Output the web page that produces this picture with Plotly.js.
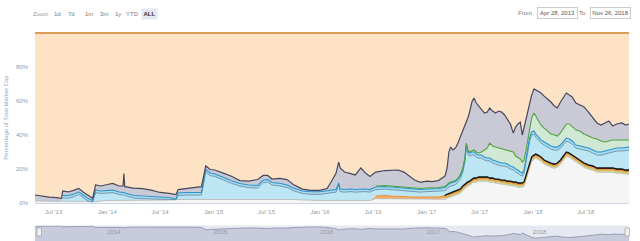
<!DOCTYPE html>
<html><head><meta charset="utf-8">
<script src="https://cdn.plot.ly/plotly-3.0.1.min.js"></script>
<style>html,body{margin:0;padding:0;background:#fff;}#chart{width:640px;height:241px;}</style>
</head><body><div id="chart"></div>
<script>
// Cumulative percentage of total market cap at the top of each stacked band
const dates = ['2013-04-28','2013-05-20','2013-06-15','2013-07-10','2013-07-28','2013-08-01','2013-08-20','2013-09-10','2013-09-25','2013-10-10',
'2013-10-28','2013-11-12','2013-11-22','2013-12-10','2014-01-01','2014-01-20','2014-02-10','2014-02-24','2014-02-27','2014-03-02',
'2014-04-01','2014-05-01','2014-06-01','2014-07-01','2014-08-01','2014-08-25','2014-09-01','2014-10-01','2014-11-01','2014-11-20',
'2014-12-05','2014-12-20','2015-01-05','2015-01-20','2015-02-05','2015-03-01','2015-04-01','2015-05-01','2015-06-01','2015-06-20',
'2015-07-05','2015-07-20','2015-08-15','2015-09-10','2015-10-01','2015-11-01','2015-12-01','2016-01-01','2016-01-25','2016-02-10',
'2016-02-25','2016-03-05','2016-03-10','2016-03-25','2016-04-15','2016-05-01','2016-05-20','2016-06-05','2016-06-20','2016-07-10',
'2016-08-10','2016-09-01','2016-09-25','2016-10-15','2016-11-01','2016-11-20','2016-12-10','2017-01-01','2017-01-20','2017-02-10',
'2017-03-05','2017-03-12','2017-03-18','2017-03-24','2017-04-01','2017-04-10','2017-04-18','2017-04-26','2017-05-05','2017-05-12',
'2017-05-17','2017-05-22','2017-05-28','2017-06-05','2017-06-12','2017-06-20','2017-06-28','2017-07-08','2017-07-18','2017-07-28',
'2017-08-05','2017-08-15','2017-08-25','2017-09-05','2017-09-15','2017-09-25','2017-10-05','2017-10-15','2017-10-25','2017-11-02',
'2017-11-10','2017-11-18','2017-11-25','2017-12-01','2017-12-08','2017-12-14','2017-12-20','2017-12-27','2018-01-04','2018-01-10',
'2018-01-18','2018-01-28','2018-02-08','2018-02-20','2018-03-03','2018-03-15','2018-03-25','2018-04-05','2018-04-15','2018-04-25',
'2018-05-05','2018-05-15','2018-05-28','2018-06-10','2018-06-25','2018-07-10','2018-07-25','2018-08-08','2018-08-22','2018-09-05',
'2018-09-18','2018-10-01','2018-10-15','2018-11-01','2018-11-15','2018-11-26'];

const levelOthers = [1.2,1.2,0.9,0.9,0.9,0.9,0.9,0.9,0.9,0.9,
0.9,0.6,0.9,1.2,1.5,1.5,1.5,1.5,1.5,1.5,
1.8,1.8,1.8,1.8,1.8,1.8,2.1,2.1,2.1,2.1,
2.4,2.4,2.4,2.4,2.4,2.4,2.4,2.4,2.4,2.4,
2.4,2.4,2.4,2.1,2.1,1.8,1.5,1.5,1.5,1.5,
1.5,1.5,1.5,1.5,1.5,1.5,1.5,1.5,1.5,2.6,
2.6,2.6,2.6,2.4,2.4,2.4,2.4,2.4,2.4,2.4,
2.2,2.8,3.1,3.4,4.0,4.6,5.1,5.7,7.5,8.7,
9.3,9.9,10.4,11.6,12.2,12.2,12.8,12.8,12.8,12.8,
12.2,12.2,11.6,11.6,11.0,11.0,10.4,10.4,9.9,9.9,
9.3,9.3,9.3,9.9,14.0,18.1,21.6,24.6,25.7,26.3,
25.7,24.6,22.8,21.6,21.0,20.4,21.0,22.8,25.1,27.5,
26.9,25.7,24.0,22.8,21.0,19.9,19.3,18.1,18.1,18.1,
18.1,18.1,17.5,17.5,16.9,16.9];

const levelOlive = [1.2,1.2,0.9,0.9,0.9,0.9,0.9,0.9,0.9,0.9,
0.9,0.6,0.9,1.2,1.5,1.5,1.5,1.5,1.5,1.5,
1.8,1.8,1.8,1.8,1.8,1.8,2.1,2.1,2.1,2.1,
2.4,2.4,2.4,2.4,2.4,2.4,2.4,2.4,2.4,2.4,
2.4,2.4,2.4,2.1,2.1,1.8,1.5,1.5,1.5,1.5,
1.5,1.5,1.5,1.5,1.5,1.5,1.5,1.5,1.5,2.6,
2.6,2.6,2.6,2.4,2.4,2.4,2.4,2.4,2.4,2.4,
3.0,3.6,3.9,4.2,4.8,5.4,5.9,6.5,8.3,9.5,
10.1,10.7,11.2,12.4,13.0,13.0,13.6,13.6,13.6,13.6,
13.0,13.0,12.4,12.4,11.8,11.8,11.2,11.2,10.7,10.7,
10.1,10.1,10.1,10.7,14.8,18.9,22.4,25.4,26.5,27.1,
26.5,25.4,23.6,22.4,21.8,21.2,21.8,23.6,25.9,28.3,
27.7,26.5,24.8,23.6,21.8,20.7,20.1,18.9,18.9,18.9,
18.9,18.9,18.3,18.3,17.7,17.7];

const levelOrange = [1.2,1.2,0.9,0.9,0.9,0.9,0.9,0.9,0.9,0.9,
0.9,0.6,0.9,1.2,1.5,1.5,1.5,1.5,1.5,1.5,
1.8,1.8,1.8,1.8,1.8,1.8,2.1,2.1,2.1,2.1,
2.4,2.4,2.4,2.4,2.4,2.4,2.4,2.4,2.4,2.4,
2.4,2.4,2.4,2.1,2.1,1.8,1.5,1.5,1.5,1.5,
1.5,1.5,1.5,1.5,1.5,1.5,1.5,1.5,1.5,4.1,
4.4,4.1,4.1,3.8,3.5,3.5,3.2,3.5,3.5,3.5,
3.9,4.5,4.8,5.1,5.7,6.3,6.8,7.4,9.2,10.4,
11.0,11.6,12.1,13.3,13.9,13.9,14.5,14.5,14.5,14.5,
13.9,13.9,13.3,13.3,12.7,12.7,12.1,12.1,11.6,11.6,
11.0,11.0,11.0,11.6,15.7,19.8,23.3,26.3,27.4,28.0,
27.4,26.3,24.5,23.3,22.7,22.1,22.7,24.5,26.8,29.2,
28.6,27.4,25.7,24.5,22.7,21.6,21.0,19.8,19.8,19.8,
19.8,19.8,19.2,19.2,18.6,18.6];

const levelBlack = [1.2,1.2,0.9,0.9,0.9,0.9,0.9,0.9,0.9,0.9,
0.9,0.6,0.9,1.2,1.5,1.5,1.5,1.5,1.5,1.5,
1.8,1.8,1.8,1.8,1.8,1.8,2.1,2.1,2.1,2.1,
2.4,2.4,2.4,2.4,2.4,2.4,2.4,2.4,2.4,2.4,
2.4,2.4,2.4,2.1,2.1,1.8,1.5,1.5,1.5,1.5,
1.5,1.5,1.5,1.5,1.5,1.5,1.5,1.5,1.5,4.1,
4.4,4.1,4.1,3.8,3.5,3.5,3.2,3.5,3.5,3.5,
4.7,5.3,5.6,5.9,6.5,7.1,7.6,8.2,10.0,11.2,
11.8,12.4,12.9,14.1,14.7,14.7,15.3,15.3,15.3,15.3,
14.7,14.7,14.1,14.1,13.5,13.5,12.9,12.9,12.4,12.4,
11.8,11.8,11.8,12.4,16.5,20.6,24.1,27.1,28.2,28.8,
28.2,27.1,25.3,24.1,23.5,22.9,23.5,25.3,27.6,30.0,
29.4,28.2,26.5,25.3,23.5,22.4,21.8,20.6,20.6,20.6,
20.6,20.6,20.0,20.0,19.4,19.4];

const levelSteel = [1.2,1.2,0.9,0.9,0.9,2.9,2.9,3.8,5.1,3.2,
1.1,0.8,6.1,5.6,6.1,6.1,5.0,5.0,4.7,4.4,
2.9,2.6,2.3,2.0,2.1,2.0,4.4,4.7,4.7,4.7,
18.2,16.1,15.6,14.4,13.5,11.7,10.0,9.1,8.8,12.0,
12.3,10.6,10.1,9.1,7.3,5.6,5.1,5.1,5.6,6.1,
6.4,10.3,6.7,6.4,6.7,6.4,6.7,6.7,6.4,7.9,
8.2,7.9,7.6,7.3,7.0,6.7,6.4,6.7,6.7,7.0,
7.3,8.8,9.4,10.0,10.6,10.8,12.3,14.1,18.2,24.1,
32.9,28.8,27.6,28.2,28.2,27.0,26.4,26.4,25.3,24.7,
24.7,23.5,22.9,22.3,21.7,21.7,21.1,20.0,19.4,18.2,
17.6,16.4,15.8,17.6,24.7,31.7,36.4,40.0,40.6,38.8,
37.0,35.3,34.1,32.9,31.7,31.1,31.1,32.3,34.7,36.4,
35.8,34.7,32.3,31.7,31.1,30.6,29.4,28.2,28.2,28.8,
29.4,30.0,30.6,30.6,31.1,31.1];

const levelBlue = [1.2,1.2,0.9,0.9,0.9,4.4,4.4,5.3,6.6,4.7,
2.6,1.5,7.6,7.1,7.6,7.6,6.5,6.5,6.2,5.9,
4.4,4.1,3.8,3.5,3.2,2.4,5.9,6.2,6.2,6.2,
19.7,17.6,17.1,15.9,15.0,13.2,11.5,10.6,10.3,13.5,
13.8,12.1,11.6,10.6,8.8,7.1,6.6,6.6,7.1,7.6,
7.9,11.8,8.2,7.9,8.2,7.9,8.2,8.2,7.9,9.4,
9.7,9.4,9.1,8.8,8.5,8.2,7.9,8.2,8.2,8.5,
9.1,10.6,11.2,11.8,12.4,12.6,14.1,15.9,20.0,25.9,
34.7,30.6,29.4,30.0,30.0,28.8,28.2,28.2,27.1,26.5,
26.5,25.3,24.7,24.1,23.5,23.5,22.9,21.8,21.2,20.0,
19.4,18.2,17.6,19.4,26.5,33.5,38.2,41.8,42.4,40.6,
38.8,37.1,35.9,34.7,33.5,32.9,32.9,34.1,36.5,38.2,
37.6,36.5,34.1,33.5,32.9,32.4,31.2,30.0,30.0,30.6,
31.2,31.8,32.4,32.4,32.9,32.9];

const levelGreen = [1.2,1.2,0.9,0.9,0.9,4.4,4.4,5.3,6.6,4.7,
2.6,1.5,7.6,7.1,7.6,7.6,6.5,6.5,6.2,5.9,
4.4,4.1,3.8,3.5,3.2,2.4,5.9,6.2,6.2,6.2,
19.7,17.6,17.1,15.9,15.0,13.2,11.5,10.6,10.3,13.5,
13.8,12.1,11.6,10.6,8.8,7.1,6.6,6.6,7.1,7.6,
7.9,11.8,8.2,7.9,8.2,7.9,8.2,8.2,7.9,10.0,
10.3,10.0,9.7,9.4,9.1,8.8,8.5,8.8,8.8,9.1,
9.7,11.2,11.8,12.4,12.9,13.2,14.7,16.5,20.6,26.5,
35.3,31.2,30.0,30.6,31.2,30.0,29.4,30.0,31.2,32.4,
35.3,33.5,32.9,32.4,31.8,31.8,31.2,30.6,30.0,27.6,
26.5,25.9,24.1,25.3,31.2,37.1,42.9,50.0,52.9,51.2,
48.2,45.9,44.1,42.4,40.6,40.0,39.4,41.2,44.1,46.5,
46.5,44.7,42.9,42.4,40.6,39.4,38.2,37.6,36.5,35.9,
36.5,37.1,37.1,37.1,37.1,37.1];

const levelGray = [4.7,4.1,3.5,3.2,2.8,7.1,6.5,7.6,8.6,6.5,
4.4,2.8,10.6,10.0,10.9,11.5,10.0,10.0,17.4,9.6,
8.8,8.5,7.6,6.2,5.7,5.0,7.9,8.5,9.2,9.6,
21.8,19.7,19.4,18.2,17.4,15.9,13.2,12.9,13.8,16.2,
16.2,14.1,14.5,13.8,10.9,8.2,7.4,7.4,8.5,12.9,
17.6,24.1,20.6,18.2,17.1,16.5,20.6,17.6,15.6,18.2,
19.1,19.4,19.4,18.2,15.9,13.5,12.1,12.9,12.6,13.2,
15.9,20.6,30.0,32.9,31.2,32.4,35.3,38.8,41.8,45.3,
48.2,50.0,53.5,59.4,61.8,58.8,57.1,54.7,52.9,53.5,
55.9,54.1,52.9,54.1,53.5,51.8,48.8,46.5,41.2,44.7,
46.5,47.6,40.0,44.1,50.6,54.7,58.2,63.5,67.1,66.5,
65.3,64.7,62.9,61.2,59.4,57.1,55.9,59.4,61.8,64.7,
63.5,62.4,58.8,57.6,56.5,53.5,50.0,47.1,45.9,47.1,
48.2,45.3,46.5,47.1,45.9,46.5];

const yTickVals = [0,20,40,60,80];
const yTickText = ['0%','20%','40%','60%','80%'];
const rangeButtons = ['1d','7d','1m','3m','1y','YTD','ALL'];
const fromDate = 'Apr 28, 2013';
const toDate = 'Nov 26, 2018';

// total market = 100%, Bitcoin band fills from the gray line to it
const levelTotal = dates.map(() => 100);
const bitcoinShare = levelGray.map(v => 100 - v);

const FONT = 'Liberation Sans, Arial, sans-serif';
const bands = [
  [levelOthers, '#f5f5f5'],
  [levelOlive, '#e3e5b3'],
  [levelOrange, '#f6b06a'],
  [levelBlack, '#3a3a3a'],
  [levelSteel, '#bde6f4'],
  [levelBlue, '#a9ddf1'],
  [levelGreen, '#d0e8d4'],
  [levelGray, '#cacad7'],
  [levelTotal, '#fde2c5']
];
const traces = bands.map((b, i) => ({
  x: dates, y: b[0], mode: 'lines', line: {width: 0, color: b[1]},
  fill: i === 0 ? 'tozeroy' : 'tonexty', fillcolor: b[1],
  hoverinfo: 'skip', showlegend: false, xaxis: 'x', yaxis: 'y'
}));
function lineTrace(arr, start, color, width) {
  return {x: dates.slice(start), y: arr.slice(start), mode: 'lines',
    line: {color: color, width: width}, hoverinfo: 'skip', showlegend: false, xaxis: 'x', yaxis: 'y'};
}
traces.push(lineTrace(levelOthers, 0, '#b4b4b4', 0.8));
traces.push(lineTrace(levelOlive, 70, '#b9c05c', 0.8));
traces.push(lineTrace(levelOrange, 59, '#ee9230', 1.1));
traces.push(lineTrace(levelSteel, 5, '#6b8ca3', 0.9));
traces.push(lineTrace(levelBlue, 5, '#2a93cb', 1.1));
traces.push(lineTrace(levelGreen, 59, '#4fa23e', 1.1));
traces.push(lineTrace(levelBlack, 70, '#151515', 1.3));
traces.push(lineTrace(levelGray, 0, '#47475c', 1.2));
traces.push(lineTrace(levelTotal, 0, '#dc9d58', 1.8));

// navigator
traces.push({x: dates, y: bitcoinShare, mode: 'lines', fill: 'tozeroy', fillcolor: '#c8cbdb',
  line: {color: '#8a8fa8', width: 0.8}, hoverinfo: 'skip', showlegend: false, xaxis: 'x2', yaxis: 'y2'});

const W = 640, H = 241;
const px = v => v / W, py = v => (H - v) / H;

const annotations = [];
annotations.push({text: 'Zoom', x: px(40.5), y: py(13.5), xref: 'paper', yref: 'paper', showarrow: false,
  xanchor: 'center', yanchor: 'middle', font: {size: 6, color: '#9a9a9a', family: FONT}});
const btnX = [57.5, 71.5, 88.5, 103.5, 117.5, 132.5, 149.5];
rangeButtons.forEach((t, i) => {
  const active = t === 'ALL';
  annotations.push({text: active ? '<b>' + t + '</b>' : t, x: px(btnX[i]), y: py(13.5), xref: 'paper', yref: 'paper',
    showarrow: false, xanchor: 'center', yanchor: 'middle',
    font: {size: 6, color: active ? '#333' : '#777', family: FONT},
    bgcolor: active ? '#e3e8f4' : 'rgba(0,0,0,0)', width: active ? 15 : null, height: active ? 10 : null, borderpad: 0});
});
annotations.push({text: 'From', x: px(525), y: py(13), xref: 'paper', yref: 'paper', showarrow: false,
  xanchor: 'center', yanchor: 'middle', font: {size: 6, color: '#777', family: FONT}});
annotations.push({text: fromDate, x: px(557), y: py(13), xref: 'paper', yref: 'paper', showarrow: false,
  xanchor: 'center', yanchor: 'middle', font: {size: 6, color: '#555', family: FONT},
  bordercolor: '#cccccc', borderwidth: 1, width: 38, height: 9, borderpad: 0.5});
annotations.push({text: 'To', x: px(582.5), y: py(13), xref: 'paper', yref: 'paper', showarrow: false,
  xanchor: 'center', yanchor: 'middle', font: {size: 6, color: '#777', family: FONT}});
annotations.push({text: toDate, x: px(610), y: py(13), xref: 'paper', yref: 'paper', showarrow: false,
  xanchor: 'center', yanchor: 'middle', font: {size: 6, color: '#555', family: FONT},
  bordercolor: '#cccccc', borderwidth: 1, width: 38, height: 9, borderpad: 0.5});

const shapes = [
  {type: 'rect', xref: 'paper', yref: 'paper', x0: px(37), x1: px(41.5), y0: py(236), y1: py(228),
    fillcolor: '#f2f2f2', line: {color: '#999', width: 0.6}},
  {type: 'rect', xref: 'paper', yref: 'paper', x0: px(625), x1: px(629.5), y0: py(236), y1: py(228),
    fillcolor: '#f2f2f2', line: {color: '#999', width: 0.6}}
];

const layout = {
  width: W, height: H, margin: {l: 0, r: 0, t: 0, b: 0},
  paper_bgcolor: '#ffffff', plot_bgcolor: '#e6e9f2', showlegend: false,
  font: {family: FONT, size: 6, color: '#999'},
  xaxis: {domain: [px(35), px(629)], anchor: 'y', type: 'date', range: ['2013-04-28', '2018-11-26'],
    tick0: '2013-07-01', dtick: 'M6', tickformat: "%b '%y", ticks: '', showgrid: false, zeroline: false,
    showline: true, linecolor: '#ccd6eb', linewidth: 1, tickfont: {size: 6, color: '#999'}, ticklabelstandoff: 3,
    fixedrange: true},
  yaxis: {domain: [(H - 203) / H, (H - 32) / H], anchor: 'x', range: [0, 100.6],
    tickvals: yTickVals, ticktext: yTickText, ticks: '', showgrid: false, zeroline: false, showline: false,
    tickfont: {size: 6, color: '#8d9ab0'}, ticklabelstandoff: 6, fixedrange: true,
    title: {text: 'Percentage of Total Market Cap', font: {size: 6, color: '#8fa7c7'}, standoff: 6}},
  xaxis2: {domain: [px(35), px(629)], anchor: 'y2', type: 'date', range: ['2013-04-28', '2018-11-26'],
    tick0: '2014-01-01', dtick: 'M12', tickformat: '%Y', ticklabelposition: 'inside right', ticks: '',
    showgrid: true, gridcolor: '#d6d9e3', gridwidth: 0.6, zeroline: false, showline: false,
    tickfont: {size: 6, color: '#999'}, fixedrange: true},
  yaxis2: {domain: [0, 15.5 / H], anchor: 'x2', range: [18.4, 100], showticklabels: false,
    showgrid: false, zeroline: false, ticks: '', fixedrange: true},
  annotations: annotations,
  shapes: shapes
};

Plotly.newPlot('chart', traces, layout, {displayModeBar: false, staticPlot: true});
</script>
</body></html>
